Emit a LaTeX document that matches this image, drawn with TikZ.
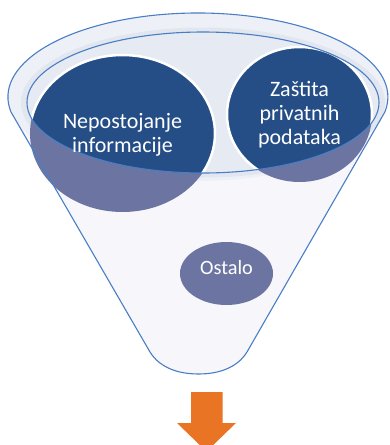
\documentclass[tikz,border=0pt]{standalone}
\usepackage{fontspec}
\setmainfont{Carlito}
\definecolor{bodyc}{HTML}{F6F6FB}
\definecolor{rimc}{HTML}{EEF0F7}
\definecolor{bandc}{HTML}{E1E6EF}
\definecolor{innerc}{HTML}{E6EAF2}
\definecolor{darkc}{HTML}{254E87}
\definecolor{purpc}{HTML}{6C75A1}
\definecolor{linec}{HTML}{4A7EC4}
\definecolor{orangec}{HTML}{E87424}
\tikzset{
  outline/.style={draw=linec, line width=1.1pt},
  darkfill/.style={fill=darkc, draw=white, line width=2.5pt},
  lbl/.style={text=white, align=center, inner sep=0pt, font=\fontsize{22}{24}\selectfont},
}
\begin{document}
\begin{tikzpicture}[x=1pt,y=-1pt]
\useasboundingbox (0,0) rectangle (389,445);
\clip (0,0) rectangle (389,445);
% funnel body
\path[fill=bodyc] (11,112) arc[start angle=169.7, end angle=370.3, x radius=190, y radius=84]
  -- (247,352) .. controls (241,362) and (227,374) .. (198.5,374)
  .. controls (170,374) and (156,362) .. (150,352) -- cycle;
% rim
\fill[rimc] (198,97) ellipse [x radius=190, y radius=84];
\fill[bandc] (203,102.5) ellipse [x radius=182, y radius=75];
\fill[innerc] (203,102.5) ellipse [x radius=176, y radius=70.5];
% Ostalo
\fill[purpc] (226.5,273.5) ellipse [x radius=46.5, y radius=31.5];
% circles, lower (seen through funnel)
\fill[purpc] (122.5,133.5) ellipse [x radius=92.5, y radius=78.5];
\fill[purpc] (299.5,114.5) ellipse [x radius=72.5, y radius=67.5];
\begin{scope}
  \clip (203,102.5) ellipse [x radius=176, y radius=70.5];
  \path[darkfill] (122.5,133.5) ellipse [x radius=92.5, y radius=78.5];
  \path[darkfill] (299.5,114.5) ellipse [x radius=72.5, y radius=67.5];
\end{scope}
% inner rim line
\draw[outline] (203,102.5) ellipse [x radius=176, y radius=70.5];
% funnel outline
\path[outline] (11,112) arc[start angle=169.7, end angle=370.3, x radius=190, y radius=84]
  -- (247,352) .. controls (241,362) and (227,374) .. (198.5,374)
  .. controls (170,374) and (156,362) .. (150,352) -- cycle;
% texts
\node[lbl] (nep) at (122.5,134.8) {Nepostojanje\\informacije};
\node[lbl] (zas) at (299.5,115) {Zaštita\\privatnih\\podataka};
\node[lbl, font=\fontsize{20.3}{24}\selectfont] (ost) at (226.5,267.3) {Ostalo};
% arrow
\fill[orangec] (191,392) -- (222.7,392) -- (222.7,423) -- (236,423) -- (206.5,451.5)
  -- (177,423) -- (191,423) -- cycle;
\end{tikzpicture}
\end{document}
